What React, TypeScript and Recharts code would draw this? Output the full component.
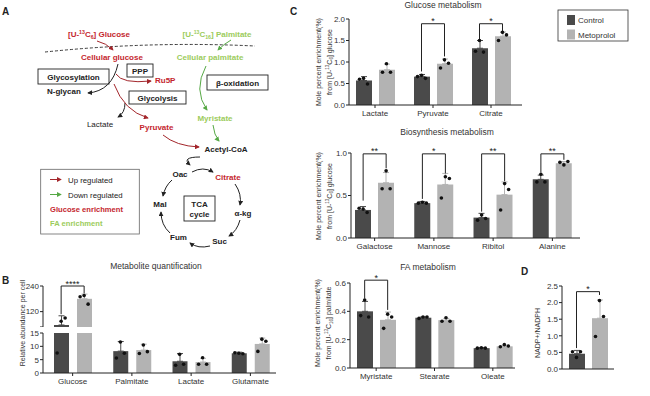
import React from "react";
import { ComposedChart, Bar, XAxis, YAxis, ErrorBar, Scatter, ReferenceLine, Cell } from "recharts";

const CTRL = "#4a4a4a";
const METO = "#b3b3b3";
const INK = "#222";
const TXT = "#333";
const RED = "#c4262e";
const DRED = "#a3262b";
const GRN = "#9ccc5c";
const DGRN = "#56a845";
const FONT = '"Liberation Sans", Arial, sans-serif';

// C - glucose metabolism
const glcCats = ["Lactate", "Pyruvate", "Citrate"];
const glcCtrl = [0.57, 0.66, 1.32];
const glcMeto = [0.82, 0.96, 1.6];
const glcCtrlErr = [0.09, 0.05, 0.18];
const glcMetoErr = [0.13, 0.11, 0.1];
const glcCtrlPts = [[0.6, 0.62, 0.49], [0.66, 0.69, 0.62], [1.25, 1.5, 1.23]];
const glcMetoPts = [[0.76, 0.96, 0.76], [0.86, 1.05, 0.97], [1.5, 1.69, 1.63]];
const glcSig = [
  { cat: "Pyruvate", top: 1.89, left: 0.78, right: 1.13, label: "*" },
  { cat: "Citrate", top: 1.89, left: 1.53, right: 1.72, label: "*" },
];

// C - biosynthesis metabolism
const bioCats = ["Galactose", "Mannose", "Ribitol", "Alanine"];
const bioCtrl = [0.33, 0.41, 0.24, 0.69];
const bioMeto = [0.65, 0.63, 0.51, 0.88];
const bioCtrlErr = [0.04, 0.02, 0.05, 0.05];
const bioMetoErr = [0.12, 0.13, 0.15, 0.02];
const bioCtrlPts = [[0.35, 0.34, 0.3], [0.41, 0.42, 0.41], [0.21, 0.27, 0.23], [0.66, 0.75, 0.66]];
const bioMetoPts = [[0.58, 0.79, 0.58], [0.47, 0.72, 0.7], [0.33, 0.64, 0.57], [0.89, 0.86, 0.9]];
const bioSig = [
  { cat: "Galactose", top: 0.99, left: 0.44, right: 0.82, label: "**" },
  { cat: "Mannose", top: 0.99, left: 0.46, right: 0.76, label: "*" },
  { cat: "Ribitol", top: 0.99, left: 0.31, right: 0.67, label: "**" },
  { cat: "Alanine", top: 0.99, left: 0.77, right: 0.92, label: "**" },
];

// C - FA metabolism
const faCats = ["Myristate", "Stearate", "Oleate"];
const faCtrl = [0.4, 0.355, 0.14];
const faMeto = [0.34, 0.338, 0.153];
const faCtrlErr = [0.07, 0.006, 0.004];
const faMetoErr = [0.055, 0.012, 0.008];
const faCtrlPts = [[0.37, 0.48, 0.36], [0.35, 0.36, 0.36], [0.14, 0.143, 0.14]];
const faMetoPts = [[0.28, 0.38, 0.36], [0.33, 0.355, 0.33], [0.15, 0.165, 0.155]];
const faSig = [{ cat: "Myristate", top: 0.62, left: 0.49, right: 0.41, label: "*" }];

// B - metabolite quantification (broken axis)
const bCats = ["Glucose", "Palmitate", "Lactate", "Glutamate"];
const bCtrl = [57.5, 8.2, 4.4, 7.4];
const bMeto = [180, 8.6, 4.1, 10.9];
const bCtrlErr = [43, 3.6, 2.9, 0.4];
const bMetoErr = [22, 2.2, 1.4, 2.2];
const bCtrlPts = [[7.5, 75, 90], [5.6, 11.6, 7.4], [2.9, 7.0, 3.3], [7.6, 7.4, 7.2]];
const bMetoPts = [[190, 195, 155], [7.3, 10.5, 8.0], [3.3, 5.7, 3.3], [8.1, 12.7, 11.9]];
const bSig = [{ cat: "Glucose", top: 240, left: 108, right: 205, label: "****" }];
const B_LOW_MAX = 15;
const B_HIGH_MIN = 48;

// D - NADP+/NADPH
const dCats = ["Control", "Metoprolol"];
const dVals = [0.46, 1.53];
const dErr = [0.1, 0.55];
const dPts = [[0.52, 0.35, 0.52], [0.98, 2.06, 1.58]];
const dSig = [{ a: "Control", b: "Metoprolol", top: 2.33, left: 0.63, right: 2.23, label: "*" }];

const OFF = 11.5;
const JIT = [-4, 0, 4];

type Row = Record<string, any>;

function buildRows(cats: string[], ctrl: number[], meto: number[], ce: number[], me: number[], cp: number[][], mp: number[][]): Row[] {
  return cats.map((name, i) => {
    const r: Row = { name, ctrl: ctrl[i], meto: meto[i], ctrlE: [0, ce[i]], metoE: [0, me[i]] };
    cp[i].forEach((v, j) => (r["c" + j] = v));
    mp[i].forEach((v, j) => (r["m" + j] = v));
    return r;
  });
}

const glcRows = buildRows(glcCats, glcCtrl, glcMeto, glcCtrlErr, glcMetoErr, glcCtrlPts, glcMetoPts);
const bioRows = buildRows(bioCats, bioCtrl, bioMeto, bioCtrlErr, bioMetoErr, bioCtrlPts, bioMetoPts);
const faRows = buildRows(faCats, faCtrl, faMeto, faCtrlErr, faMetoErr, faCtrlPts, faMetoPts);

const bUpperRows: Row[] = bCats.map((name, i) => {
  const r: Row = {
    name,
    ctrl: bCtrl[i] >= B_HIGH_MIN ? bCtrl[i] : null,
    meto: bMeto[i] >= B_HIGH_MIN ? bMeto[i] : null,
    ctrlE: bCtrl[i] >= B_HIGH_MIN ? [0, bCtrlErr[i]] : null,
    metoE: bMeto[i] >= B_HIGH_MIN ? [0, bMetoErr[i]] : null,
  };
  bCtrlPts[i].forEach((v, j) => (r["c" + j] = v >= B_HIGH_MIN ? v : null));
  bMetoPts[i].forEach((v, j) => (r["m" + j] = v >= B_HIGH_MIN ? v : null));
  return r;
});

const bLowerRows: Row[] = bCats.map((name, i) => {
  const r: Row = {
    name,
    ctrl: Math.min(bCtrl[i], B_LOW_MAX),
    meto: Math.min(bMeto[i], B_LOW_MAX),
    ctrlE: bCtrl[i] + bCtrlErr[i] <= B_LOW_MAX ? [0, bCtrlErr[i]] : null,
    metoE: bMeto[i] + bMetoErr[i] <= B_LOW_MAX ? [0, bMetoErr[i]] : null,
  };
  bCtrlPts[i].forEach((v, j) => (r["c" + j] = v <= B_LOW_MAX ? v : null));
  bMetoPts[i].forEach((v, j) => (r["m" + j] = v <= B_LOW_MAX ? v : null));
  return r;
});

const dRows: Row[] = dCats.map((name, i) => {
  const r: Row = { name, v: dVals[i], ce: i === 0 ? [0, dErr[i]] : null, me: i === 1 ? [0, dErr[i]] : null };
  dPts[i].forEach((v, j) => (r["d" + j] = v));
  return r;
});

const tickStyle = { fontSize: 8, fill: TXT, fontFamily: FONT };

const dot = (key: string, dx: number) => (p: any) => {
  if (!p || p.payload == null || p.payload[key] == null || !isFinite(p.cy)) return <g />;
  return <circle cx={p.cx + dx} cy={p.cy} r={1.8} fill="#111" />;
};

function pairSeries() {
  return [
    <Bar key="bc" dataKey="ctrl" fill={CTRL} isAnimationActive={false}>
      <ErrorBar dataKey="ctrlE" direction="y" width={3} stroke={CTRL} strokeWidth={1} isAnimationActive={false} />
    </Bar>,
    <Bar key="bm" dataKey="meto" fill={METO} isAnimationActive={false}>
      <ErrorBar dataKey="metoE" direction="y" width={3} stroke={METO} strokeWidth={1} isAnimationActive={false} />
    </Bar>,
    ...[0, 1, 2].map((j) => (
      <Scatter key={"c" + j} dataKey={"c" + j} isAnimationActive={false} shape={dot("c" + j, -OFF + JIT[j])} />
    )),
    ...[0, 1, 2].map((j) => (
      <Scatter key={"m" + j} dataKey={"m" + j} isAnimationActive={false} shape={dot("m" + j, OFF + JIT[j])} />
    )),
  ];
}

const vline = (dx: number) => (p: any) => (
  <line x1={p.x1 + dx} y1={p.y1} x2={p.x2 + dx} y2={p.y2} stroke={INK} strokeWidth={1} />
);
const hline = (dl: number, dr: number, label: string) => (p: any) => {
  const x1 = p.x1 + dl;
  const x2 = p.x2 + dr;
  return (
    <g>
      <line x1={x1} y1={p.y1} x2={x2} y2={p.y2} stroke={INK} strokeWidth={1} />
      <text x={(x1 + x2) / 2} y={p.y1 + 0.5} textAnchor="middle" fontSize={9} fill={INK} fontFamily={FONT}>
        {label}
      </text>
    </g>
  );
};

function brackets(sig: any[]) {
  return sig.flatMap((s, i) => {
    const a = s.a ?? s.cat;
    const b = s.b ?? s.cat;
    const dl = s.cat ? -OFF : 0;
    const dr = s.cat ? OFF : 0;
    return [
      <ReferenceLine key={"l" + i} ifOverflow="visible" segment={[{ x: a, y: s.top }, { x: a, y: s.left }]} shape={vline(dl)} />,
      <ReferenceLine key={"r" + i} ifOverflow="visible" segment={[{ x: b, y: s.top }, { x: b, y: s.right }]} shape={vline(dr)} />,
      <ReferenceLine key={"t" + i} ifOverflow="visible" segment={[{ x: a, y: s.top }, { x: b, y: s.top }]} shape={hline(dl, dr, s.label)} />,
    ];
  });
}

const fmt1 = (v: number) => v.toFixed(1);

function xAxisEl(padL: number, padR: number, showLabels = true, hide = false) {
  return (
    <XAxis
      dataKey="name"
      hide={hide}
      height={20}
      interval={0}
      padding={{ left: padL, right: padR }}
      tick={showLabels ? tickStyle : false as any}
      tickFormatter={showLabels ? undefined : () => ""}
      tickSize={3}
      tickMargin={2}
      axisLine={{ stroke: INK }}
      tickLine={{ stroke: INK }}
    />
  );
}

function yAxisEl(width: number, domain: number[], ticks: number[], fmt: (v: number) => string) {
  return (
    <YAxis
      width={width}
      domain={domain}
      ticks={ticks}
      interval={0}
      tickFormatter={fmt}
      tick={tickStyle}
      tickSize={3}
      tickMargin={1}
      axisLine={{ stroke: INK }}
      tickLine={{ stroke: INK }}
    />
  );
}

const pos = (left: number, top: number): React.CSSProperties => ({ position: "absolute", left, top });

function T(props: { x: number; y: number; c?: string; b?: boolean; s?: number; a?: "start" | "middle" | "end"; children: React.ReactNode }) {
  return (
    <text x={props.x} y={props.y} fill={props.c ?? INK} fontWeight={props.b === false ? 400 : 700} fontSize={props.s ?? 8} textAnchor={props.a ?? "middle"} fontFamily={FONT}>
      {props.children}
    </text>
  );
}

function RotLabel({ x, y, children }: { x: number; y: number; children: React.ReactNode }) {
  return (
    <text transform={`translate(${x},${y}) rotate(-90)`} textAnchor="middle" fontSize={7} fill={TXT} fontFamily={FONT}>
      {children}
    </text>
  );
}

function Iso({ mass, sub }: { mass: string; sub: string }) {
  return (
    <>
      <tspan fontSize="0.65em" dy={-2.8}>{mass}</tspan>
      <tspan dy={2.8}>C</tspan>
      <tspan fontSize="0.65em" dy={1.8}>{sub}</tspan>
      <tspan dy={-1.8}>]</tspan>
    </>
  );
}

function Overlay() {
  return (
    <svg width={650} height={396} style={{ position: "absolute", left: 0, top: 0, pointerEvents: "none" }}>
      <defs>
        {[["ar", DRED], ["ag", DGRN], ["ak", INK]].map(([id, c]) => (
          <marker key={id} id={id} viewBox="0 0 6 6" refX={5} refY={3} markerWidth={5} markerHeight={5} orient="auto">
            <path d="M0,0 L6,3 L0,6 z" fill={c} />
          </marker>
        ))}
      </defs>

      {/* panel letters */}
      <T x={2} y={15} s={10} a="start">A</T>
      <T x={2} y={284} s={10} a="start">B</T>
      <T x={290} y={15} s={10} a="start">C</T>
      <T x={521} y={275} s={10} a="start">D</T>

      {/* titles */}
      <T x={443} y={8} b={false} s={8.5} c={TXT}>Glucose metabolism</T>
      <T x={447} y={135} b={false} s={8.5} c={TXT}>Biosynthesis metabolism</T>
      <T x={428} y={270} b={false} s={8.5} c={TXT}>FA metabolism</T>
      <T x={156} y={269} b={false} s={8.5} c={TXT}>Metabolite quantification</T>

      {/* legend C */}
      <rect x={558} y={10} width={70} height={31} fill="white" stroke={TXT} strokeWidth={0.8} />
      <rect x={567} y={15} width={8} height={10} fill={CTRL} />
      <rect x={567} y={29.5} width={8} height={10} fill={METO} />
      <T x={578} y={23} b={false} s={8} a="start" c={TXT}>Control</T>
      <T x={578} y={37.5} b={false} s={8} a="start" c={TXT}>Metoprolol</T>

      {/* axis titles */}
      <RotLabel x={320.5} y={62}>Mole percent enrichment(%)</RotLabel>
      <RotLabel x={331.5} y={62}>from [U-<Iso mass="13" sub="6" /> glucose</RotLabel>
      <RotLabel x={320.5} y={196}>Mole percent enrichment(%)</RotLabel>
      <RotLabel x={331.5} y={196}>from [U-<Iso mass="13" sub="6" /> glucose</RotLabel>
      <RotLabel x={320} y={323}>Mole percent enrichment(%)</RotLabel>
      <RotLabel x={331} y={323}>from [U-<Iso mass="13" sub="16" /> palmitate</RotLabel>
      <RotLabel x={24.5} y={323}>Relative abundance per cell</RotLabel>
      <RotLabel x={539.5} y={333}>NADP+/NADPH</RotLabel>

      {/* panel A diagram */}
      <T x={99} y={37} c={RED}>[U-<Iso mass="13" sub="6" /> Glucose</T>
      <T x={217} y={37} c={GRN}>[U-<Iso mass="13" sub="16" /> Palmitate</T>
      <path d="M45,52 Q150,41 255,46" fill="none" stroke={INK} strokeWidth={0.9} strokeDasharray="3,2" />
      <path d="M97,41 Q106,43 113,50" fill="none" stroke={DRED} strokeWidth={1} markerEnd="url(#ar)" />
      <path d="M231,40 Q224,44 218,50" fill="none" stroke={DGRN} strokeWidth={1} markerEnd="url(#ag)" />
      <T x={112} y={60} c={RED}>Cellular glucose</T>
      <T x={210} y={60} c={GRN}>Cellular palmitate</T>

      <rect x={38} y={69} width={71} height={15} fill="white" stroke={INK} strokeWidth={0.9} />
      <T x={73.5} y={79.5}>Glycosylation</T>
      <rect x={127} y={64} width={26} height={13} fill="white" stroke={INK} strokeWidth={0.9} />
      <T x={140} y={73.5}>PPP</T>
      <T x={155} y={83} a="start" c={RED}>Ru5P</T>
      <T x={47} y={94} a="start">N-glycan</T>
      <rect x={129} y={91} width={57} height={13} fill="white" stroke={INK} strokeWidth={0.9} />
      <T x={157.5} y={100.5}>Glycolysis</T>
      <rect x={207} y={75} width={61} height={15} fill="white" stroke={INK} strokeWidth={0.9} />
      <T x={237.5} y={85.5}>β-oxidation</T>

      <path d="M118,64 Q112,91 88,93" fill="none" stroke={INK} strokeWidth={1} markerEnd="url(#ak)" />
      <path d="M116,74 Q122,84 151,81" fill="none" stroke={DRED} strokeWidth={1} markerEnd="url(#ar)" />
      <path d="M206,66 Q193,90 207,110" fill="none" stroke={DGRN} strokeWidth={1} markerEnd="url(#ag)" />
      <T x={215} y={121} c={GRN}>Myristate</T>
      <T x={100} y={127} b={false}>Lactate</T>
      <T x={156.5} y={130} c={RED}>Pyruvate</T>
      <path d="M125,103 Q125,113 118,117" fill="none" stroke={INK} strokeWidth={1} markerEnd="url(#ak)" />
      <path d="M114,84 Q124,111 148,118" fill="none" stroke={DRED} strokeWidth={1} markerEnd="url(#ar)" />
      <path d="M163,135 Q176,146 199,147" fill="none" stroke={DRED} strokeWidth={1} markerEnd="url(#ar)" />
      <path d="M213,125 Q214,135 219,141" fill="none" stroke={DGRN} strokeWidth={1} markerEnd="url(#ag)" />
      <T x={226} y={152}>Acetyl-CoA</T>
      <path d="M200,157 Q181,157 190,165" fill="none" stroke={INK} strokeWidth={1} markerEnd="url(#ak)" />

      {/* TCA cycle */}
      <T x={180} y={177}>Oac</T>
      <T x={228} y={180} c={RED}>Citrate</T>
      <T x={160} y={207}>Mal</T>
      <T x={243} y={216}>α-kg</T>
      <T x={178.5} y={240}>Fum</T>
      <T x={219.5} y={244}>Suc</T>
      <rect x={184} y={196} width={31} height={25} fill="white" stroke={INK} strokeWidth={0.9} />
      <T x={199.5} y={206.5}>TCA</T>
      <T x={199.5} y={216.5}>cycle</T>
      <path d="M192,172 Q203,166 213,172" fill="none" stroke={INK} strokeWidth={1} markerEnd="url(#ak)" />
      <path d="M235,184 Q242,194 240,205" fill="none" stroke={INK} strokeWidth={1} markerEnd="url(#ak)" />
      <path d="M240,220 Q237,231 229,236" fill="none" stroke={INK} strokeWidth={1} markerEnd="url(#ak)" />
      <path d="M210,246 Q198,249 190,243" fill="none" stroke={INK} strokeWidth={1} markerEnd="url(#ak)" />
      <path d="M170,233 Q161,225 161,212" fill="none" stroke={INK} strokeWidth={1} markerEnd="url(#ak)" />
      <path d="M172,180 Q165,186 163,196" fill="none" stroke={INK} strokeWidth={1} markerEnd="url(#ak)" />

      {/* legend A */}
      <rect x={40.7} y={169.3} width={98.6} height={64.7} fill="white" stroke="#666" strokeWidth={0.8} />
      <line x1={50} y1={179.5} x2={61} y2={179.5} stroke={DRED} strokeWidth={1} markerEnd="url(#ar)" />
      <T x={68} y={182.5} b={false} s={7.8} a="start">Up regulated</T>
      <line x1={50} y1={194.5} x2={61} y2={194.5} stroke={DGRN} strokeWidth={1} markerEnd="url(#ag)" />
      <T x={68} y={197.5} b={false} s={7.8} a="start">Down regulated</T>
      <T x={50} y={212} a="start" c={RED} s={7.6}>Glucose enrichment</T>
      <T x={50} y={226} a="start" c={GRN} s={7.6}>FA enrichment</T>
    </svg>
  );
}

export default function App() {
  return (
    <div style={{ position: "relative", width: 650, height: 396, overflow: "hidden", background: "white", fontFamily: FONT }}>
      <style>{"body{margin:0}"}</style>

      {/* C glucose metabolism */}
      <div style={pos(300, 0)}>
        <ComposedChart width={230} height={125} data={glcRows} margin={{ top: 19, right: 8, bottom: 0, left: 0 }} barSize={16} barGap={7}>
          {xAxisEl(-3, 2)}
          {yAxisEl(49, [0, 2], [0, 0.5, 1, 1.5, 2], fmt1)}
          {pairSeries()}
          {brackets(glcSig)}
        </ComposedChart>
      </div>

      {/* C biosynthesis metabolism */}
      <div style={pos(300, 140)}>
        <ComposedChart width={285} height={118} data={bioRows} margin={{ top: 13, right: 5, bottom: 0, left: 0 }} barSize={16} barGap={7}>
          {xAxisEl(-6, -2)}
          {yAxisEl(51, [0, 1], [0, 0.5, 1], fmt1)}
          {pairSeries()}
          {brackets(bioSig)}
        </ComposedChart>
      </div>

      {/* C FA metabolism */}
      <div style={pos(300, 262)}>
        <ComposedChart width={230} height={126} data={faRows} margin={{ top: 21, right: 15, bottom: 0, left: 0 }} barSize={16} barGap={7}>
          {xAxisEl(-3, -7)}
          {yAxisEl(50, [0, 0.6], [0, 0.2, 0.4, 0.6], fmt1)}
          {pairSeries()}
          {brackets(faSig)}
        </ComposedChart>
      </div>

      {/* B upper segment */}
      <div style={pos(0, 270)}>
        <ComposedChart width={290} height={57} data={bUpperRows} margin={{ top: 16, right: 14, bottom: 0, left: 0 }} barSize={15} barGap={8}>
          {xAxisEl(0, -4, true, true)}
          {yAxisEl(43, [B_HIGH_MIN, 240], [B_HIGH_MIN, 120, 240], (v) => (v === B_HIGH_MIN ? "" : String(v)))}
          {pairSeries()}
          {brackets(bSig)}
        </ComposedChart>
      </div>

      {/* B lower segment */}
      <div style={pos(0, 330)}>
        <ComposedChart width={290} height={63} data={bLowerRows} margin={{ top: 3, right: 14, bottom: 0, left: 0 }} barSize={15} barGap={8}>
          {xAxisEl(0, -4)}
          {yAxisEl(43, [0, B_LOW_MAX], [0, 5, 10, 15], (v) => String(v))}
          {pairSeries()}
        </ComposedChart>
      </div>

      {/* D */}
      <div style={pos(540, 270)}>
        <ComposedChart width={110} height={119} data={dRows} margin={{ top: 16, right: 36, bottom: 0, left: 0 }} barSize={16}>
          {xAxisEl(3, 3, false)}
          {yAxisEl(22, [0, 2.5], [0, 0.5, 1, 1.5, 2, 2.5], fmt1)}
          <Bar dataKey="v" isAnimationActive={false}>
            {dRows.map((r, i) => (
              <Cell key={r.name} fill={i === 0 ? CTRL : METO} />
            ))}
            <ErrorBar dataKey="ce" direction="y" width={3} stroke={CTRL} strokeWidth={1} isAnimationActive={false} />
            <ErrorBar dataKey="me" direction="y" width={3} stroke={METO} strokeWidth={1} isAnimationActive={false} />
          </Bar>
          {[0, 1, 2].map((j) => (
            <Scatter key={"d" + j} dataKey={"d" + j} isAnimationActive={false} shape={dot("d" + j, JIT[j])} />
          ))}
          {brackets(dSig)}
        </ComposedChart>
      </div>

      <Overlay />
    </div>
  );
}
